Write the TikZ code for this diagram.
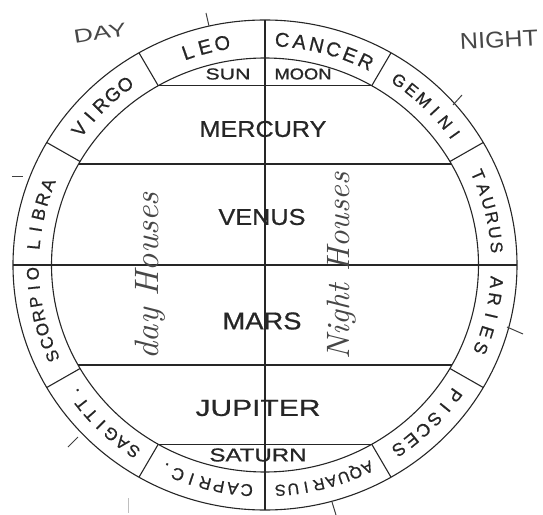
\documentclass[tikz,border=0pt]{standalone}
\usepackage{fontspec}
\setsansfont{Liberation Sans}
\newfontfamily\letterfont[FakeBold=0.7]{Liberation Sans}
\usepackage{graphicx}
\newcommand\ringword[6]{%
  \foreach \ch [count=\i] in {#6} {%
    \pgfmathsetmacro\angv{#2+((#4+1)/2-\i)*#3}%
    \pgfmathsetmacro\rxv{232.5-0.358*#5}%
    \pgfmathsetmacro\ryv{226-0.358*#5}%
    \node[ringch, font=\letterfont\fontsize{#5}{#5}\selectfont, rotate=\angv-90] (#1-\i) at ({\rxv*cos(\angv)},{\ryv*sin(\angv)}) {\ch};
  }}
\begin{document}
\begin{tikzpicture}[x=1pt,y=1pt,
  ln/.style={line width=1.1pt, draw=black!85},
  ringch/.style={anchor=base, inner sep=0pt, text=black!85},
  lbl/.style={inner sep=0pt, text=black!85, font=\letterfont},
  hand/.style={inner sep=0pt, text=black!72},
  tickln/.style={line width=1pt, draw=black!75}]
\useasboundingbox (-265,-249) rectangle (278,265);
% rings
\draw[ln] (0,0) ellipse [x radius=252pt, y radius=245pt];
\draw[ln] (0,0) ellipse [x radius=213.5pt, y radius=207pt];
\foreach \a in {0,30,...,330} {
  \coordinate (in\a) at ({213.5*cos(\a)},{207*sin(\a)});
  \coordinate (out\a) at ({252*cos(\a)},{245*sin(\a)});
}
\foreach \a in {30,60,120,150,210,240,300,330} \draw[ln] (in\a) -- (out\a);
\draw[ln] (out90) -- (out270);
\draw[ln] (out180) -- (out0);
\draw[ln] (in120) -- (in60);
\draw[ln] (in240) -- (in300);
\coordinate (h1l) at (-185.9,101); \coordinate (h1r) at (185.9,101);
\coordinate (h2l) at (-186.5,-100); \coordinate (h2r) at (186.5,-100);
\draw[ln] (h1l) -- (h1r);
\draw[ln] (h2l) -- (h2r);
% ticks
\coordinate (t1a) at (-56,239); \coordinate (t1b) at (-59,252);
\coordinate (t2a) at (188,160); \coordinate (t2b) at (197,170);
\coordinate (t3a) at (-253,88); \coordinate (t3b) at (-242,88);
\coordinate (t4a) at (242,-62); \coordinate (t4b) at (258,-69);
\coordinate (t5a) at (67,-237); \coordinate (t5b) at (71,-250);
\coordinate (t6a) at (-187,-172); \coordinate (t6b) at (-197,-182);
\coordinate (t7a) at (-137,-233); \coordinate (t7b) at (-137,-248);
\foreach \k in {1,...,6} \draw[tickln] (t\k a) -- (t\k b);
\draw[line width=0.8pt, draw=black!25] (t7a) -- (t7b);
% zodiac
\ringword{virgo}{135}{4.0}{5}{19}{V,I,R,G,O}
\ringword{leo}{105}{4.4}{3}{20}{L,E,O}
\ringword{cancer}{75}{4.3}{6}{20}{C,A,N,C,E,R}
\ringword{gemini}{45}{3.9}{6}{17}{G,E,M,I,N,I}
\ringword{taurus}{14}{3.8}{6}{17}{T,A,U,R,U,S}
\ringword{aries}{-13}{4.3}{5}{18}{A,R,I,E,S}
\ringword{pisces}{-45}{3.9}{6}{18}{P,I,S,C,E,S}
\ringword{aquarius}{-75}{3.2}{8}{16}{A,Q,U,A,R,I,U,S}
\ringword{capric}{-105}{3.5}{7}{17}{C,A,P,R,I,C,.}
\ringword{sagitt}{-135}{3.5}{7}{17}{S,A,G,I,T,T,.}
\ringword{scorpio}{-167}{3.6}{7}{17}{S,C,O,R,P,I,O}
\ringword{libra}{167}{3.9}{5}{18}{L,I,B,R,A}
% planets
\node[lbl] (sun) at (-37,191) {\resizebox{45pt}{11pt}{SUN}};
\node[lbl] (moon) at (38,191) {\resizebox{57pt}{11pt}{MOON}};
\node[lbl] (mercury) at (-2,136) {\resizebox{127pt}{16pt}{MERCURY}};
\node[lbl] (venus) at (-3,48) {\resizebox{87pt}{16pt}{VENUS}};
\node[lbl] (mars) at (-3,-56) {\resizebox{79pt}{17pt}{MARS}};
\node[lbl] (jupiter) at (-7,-143) {\resizebox{125pt}{16pt}{JUPITER}};
\node[lbl] (saturn) at (-7,-190) {\resizebox{97pt}{13pt}{SATURN}};
% handwriting
\node[hand, rotate=90] (dayh) at (-115,-11) {\resizebox{167pt}{!}{\itshape day Houses}};
\node[hand, rotate=90] (nighth) at (77,-1) {\resizebox{187pt}{!}{\itshape Night Houses}};
\node[hand, rotate=9, font=\sffamily] (day) at (-165,232) {\resizebox{53pt}{13pt}{DAY}};
\node[hand, rotate=3, font=\sffamily] (night) at (234,225) {\resizebox{78pt}{16pt}{NIGHT}};
\end{tikzpicture}
\end{document}
